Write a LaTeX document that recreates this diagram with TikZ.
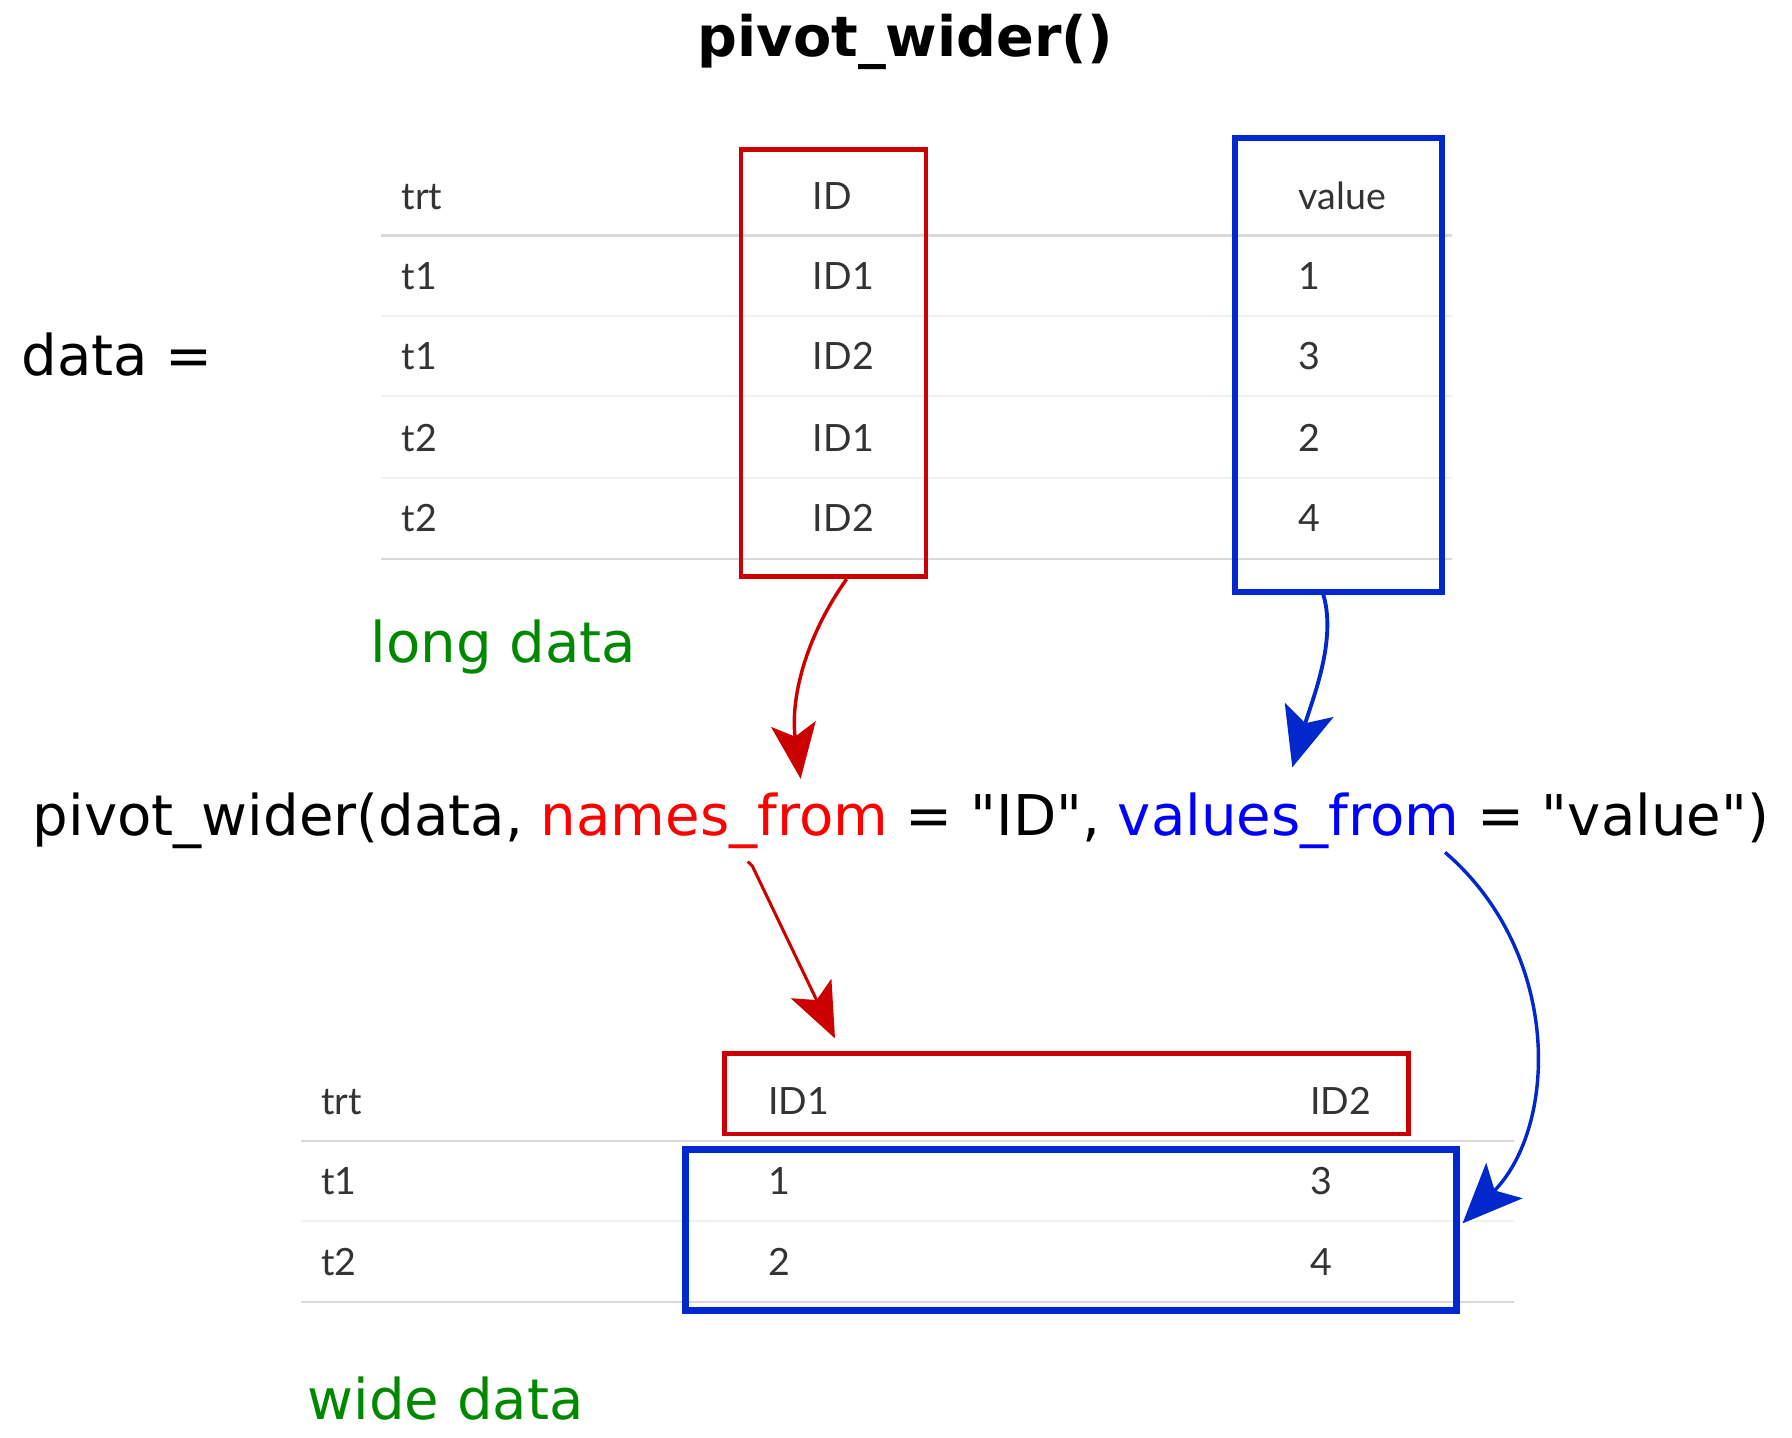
\documentclass[tikz,border=0pt]{standalone}
\usepackage{fontspec}
\setmainfont{DejaVu Sans}
\newfontfamily\tabfont{Lato}
\usetikzlibrary{arrows.meta,positioning}
\definecolor{boxred}{RGB}{204,0,0}
\definecolor{boxblue}{RGB}{0,40,204}
\definecolor{txtred}{RGB}{255,0,0}
\definecolor{txtblue}{RGB}{0,0,255}
\definecolor{labgreen}{RGB}{0,136,0}
\definecolor{tabgray}{RGB}{51,51,51}

\begin{document}
\begin{tikzpicture}[x=0.01cm, y=-0.01cm,
    big/.style={font=\fontsize{13.9}{16}\selectfont, inner sep=0pt, anchor=base west},
    cell/.style={font=\tabfont\fontsize{9.3}{11}\selectfont, text=tabgray, inner sep=0pt, anchor=base west},
    rule/.style={draw=black!15, line width=0.5pt},
    thinrule/.style={draw=black!6, line width=0.5pt},
    redbox/.style={draw=boxred, line width=1.15pt, inner sep=0pt},
    bluebox/.style={draw=boxblue, line width=1.45pt, inner sep=0pt},
    redarrow/.style={boxred, line width=0.85pt, -{Stealth[length=4.8mm, width=3.9mm, inset=1.1mm]}},
    bluearrow/.style={boxblue, line width=0.95pt, -{Stealth[length=5.2mm, width=4.4mm, inset=1.2mm]}}
]
\useasboundingbox (0,0) rectangle (1560,1251);

\node[font=\bfseries\fontsize{13.8}{16}\selectfont, inner sep=0pt, anchor=base] (title) at (788,49) {pivot\_wider()};
\node[big] (dataeq) at (18,327) {data =};

% long data
\draw[rule] (332,205) -- (1264,205);
\draw[thinrule] (332,275) -- (1264,275);
\draw[thinrule] (332,345) -- (1264,345);
\draw[thinrule] (332,416) -- (1264,416);
\draw[rule] (332,487) -- (1264,487);

\node[cell] (ltrt) at (349,182) {trt};
\node[cell] (lid) at (707,182) {ID};
\node[cell] (lval) at (1130,182) {value};
\node[cell] at (349,252) {t1};
\node[cell] at (707,252) {ID1};
\node[cell] at (1130,252) {1};
\node[cell] at (349,322) {t1};
\node[cell] at (707,322) {ID2};
\node[cell] at (1130,322) {3};
\node[cell] at (349,393) {t2};
\node[cell] at (707,393) {ID1};
\node[cell] at (1130,393) {2};
\node[cell] at (349,463) {t2};
\node[cell] at (707,463) {ID2};
\node[cell] at (1130,463) {4};

\node[redbox, minimum width=1.61cm, minimum height=3.72cm] (idbox) at (725.5,316) {};
\node[bluebox, minimum width=1.80cm, minimum height=3.95cm] (valbox) at (1165,317.5) {};

\node[big, text=labgreen] (longlab) at (322,577) {long data};

% the call
\node[big] (call) at (28,727) {pivot\_wider(data, \textcolor{txtred}{names\_from} = \textquotedbl ID\textquotedbl, \textcolor{txtblue}{values\_from} = \textquotedbl value\textquotedbl)};
\coordinate (namesin) at (697,678);
\coordinate (valuesin) at (1125,668);
\coordinate (namesout) at (655,754);
\coordinate (valuesout) at (1258,742);

% wide data
\draw[rule] (262,993) -- (1318,993);
\draw[thinrule] (262,1063) -- (1318,1063);
\draw[rule] (262,1133) -- (1318,1133);

\node[cell] (wtrt) at (279,970) {trt};
\node[cell] (wid1) at (668,970) {ID1};
\node[cell] (wid2) at (1140,970) {ID2};
\node[cell] at (279,1040) {t1};
\node[cell] at (668,1040) {1};
\node[cell] at (1140,1040) {3};
\node[cell] at (279,1110) {t2};
\node[cell] at (668,1110) {2};
\node[cell] at (1140,1110) {4};

\node[redbox, minimum width=5.95cm, minimum height=0.70cm] (headbox) at (928.5,952) {};
\node[bluebox, line width=1.7pt, minimum width=6.71cm, minimum height=1.40cm] (cellbox) at (932.5,1071) {};

\node[big, text=labgreen] (widelab) at (267,1236) {wide data};

% arrows
\draw[redarrow] ([xshift=0.115cm]idbox.south) .. controls +(-37,52) and +(-9,-68) .. (namesin);
\draw[bluearrow] ([xshift=-0.13cm]valbox.south) .. controls +(12,40) and +(17,-58) .. (valuesin);
\draw[redarrow, line width=0.75pt] ([shift={(-0.04cm,0.04cm)}]namesout) -- (namesout) -- ([xshift=-2.015cm, yshift=0.11cm]headbox.north);
\draw[bluearrow, line width=0.85pt] (valuesout) .. controls +(102,88) and +(83,-85) .. ([xshift=0.02cm, yshift=0.06cm]cellbox.east);

\end{tikzpicture}
\end{document}
